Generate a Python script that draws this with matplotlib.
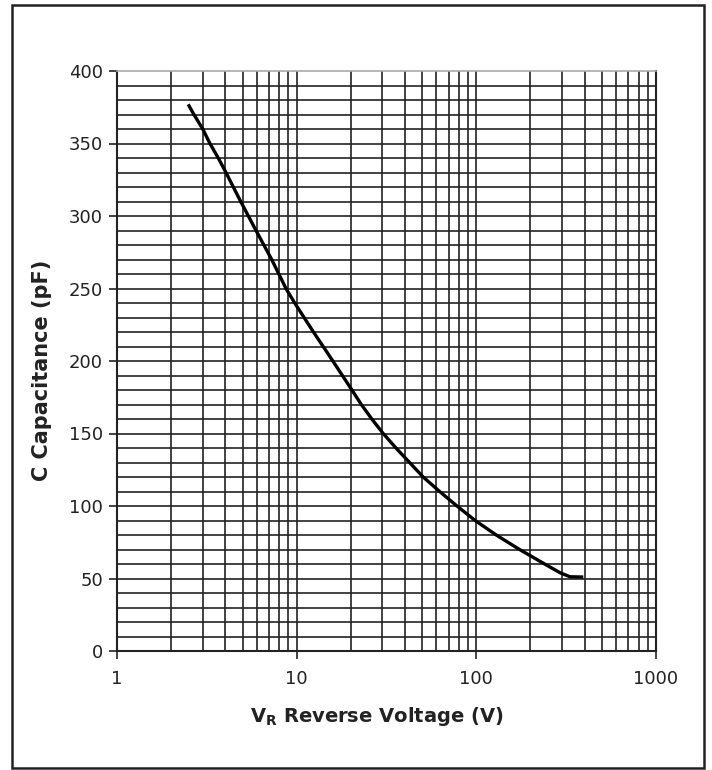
import matplotlib

matplotlib.use("Agg")
import matplotlib.pyplot as plt
from matplotlib.patches import Rectangle
from matplotlib.ticker import FixedLocator, NullFormatter

plt.rcParams["font.family"] = ["DejaVu Sans"]
plt.rcParams["mathtext.fontset"] = "dejavusans"

# values (reverse voltage V, capacitance pF)
voltage = [2.49, 2.68, 3.0, 3.29, 3.66, 4.04, 4.44, 4.88, 5.94, 7.26, 8.72, 9.75,
           12.4, 15.9, 20.3, 22.9, 26.2, 30.3, 35.7, 42.5, 50.6, 62.5, 78.0, 98.5,
           129.0, 174.0, 240.0, 292.0, 332.0, 394.0]
capacitance = [377, 370, 360, 350, 340, 330, 320, 310, 290, 270, 250, 240,
               220, 200, 180, 170, 160, 150, 140, 130, 120, 110, 100, 90,
               80, 70, 60, 54, 51.2, 51]

x_major = [1, 10, 100, 1000]
x_major_labels = ["1", "10", "100", "1000"]
y_major = [0, 50, 100, 150, 200, 250, 300, 350, 400]
y_grid = list(range(0, 401, 10))

W, H = 712, 770
fig = plt.figure(figsize=(W / 100, H / 100), dpi=100)
ax = fig.add_axes([117 / W, 1 - 651 / H, (656 - 117) / W, (651 - 71) / H])

grid_color = "#222222"
text_color = "#222222"
ax.set_xscale("log")
ax.set_xlim(1, 1000)
ax.set_ylim(0, 400)

# grid: every log minor line, every 10 pF
x_grid = [m * d for d in (1, 10, 100) for m in range(1, 10)] + [1000]
for xv in x_grid:
    ax.axvline(xv, color=grid_color, lw=1.2, zorder=1)
for yv in y_grid[1:-1]:
    ax.axhline(yv, color=grid_color, lw=1.2, zorder=1)

ax.plot(voltage, capacitance, color="black", lw=2.4, zorder=3,
        solid_joinstyle="round", solid_capstyle="butt")

ax.xaxis.set_major_locator(FixedLocator(x_major))
ax.set_xticklabels(x_major_labels)
ax.xaxis.set_minor_formatter(NullFormatter())
ax.tick_params(axis="x", which="minor", length=0)
ax.set_yticks(y_major)
ax.tick_params(axis="both", which="major", direction="out", length=6,
               width=1.2, color=grid_color, labelsize=13, labelcolor=text_color, pad=4)
ax.tick_params(axis="x", pad=8)

for side in ("left", "bottom", "right"):
    ax.spines[side].set_color(grid_color)
    ax.spines[side].set_linewidth(1.5)
ax.spines["top"].set_color("#aaaaaa")
ax.spines["top"].set_linewidth(1.2)

ax.set_xlabel(r"V$_\mathbf{R}$ Reverse Voltage (V)", fontsize=14,
              fontweight="bold", color=text_color)
ax.xaxis.set_label_coords(0.482, -0.093)
ax.set_ylabel("C Capacitance (pF)", fontsize=15, fontweight="bold",
              color=text_color)
ax.yaxis.set_label_coords(-0.121, 0.4845)

# outer frame around the whole chart
fig.patches.append(Rectangle((12 / W, 1 - 768 / H), (704 - 12) / W, (768 - 5) / H,
                             transform=fig.transFigure, fill=False,
                             edgecolor="#222222", lw=1.8))

fig.savefig("out.png", dpi=100)
